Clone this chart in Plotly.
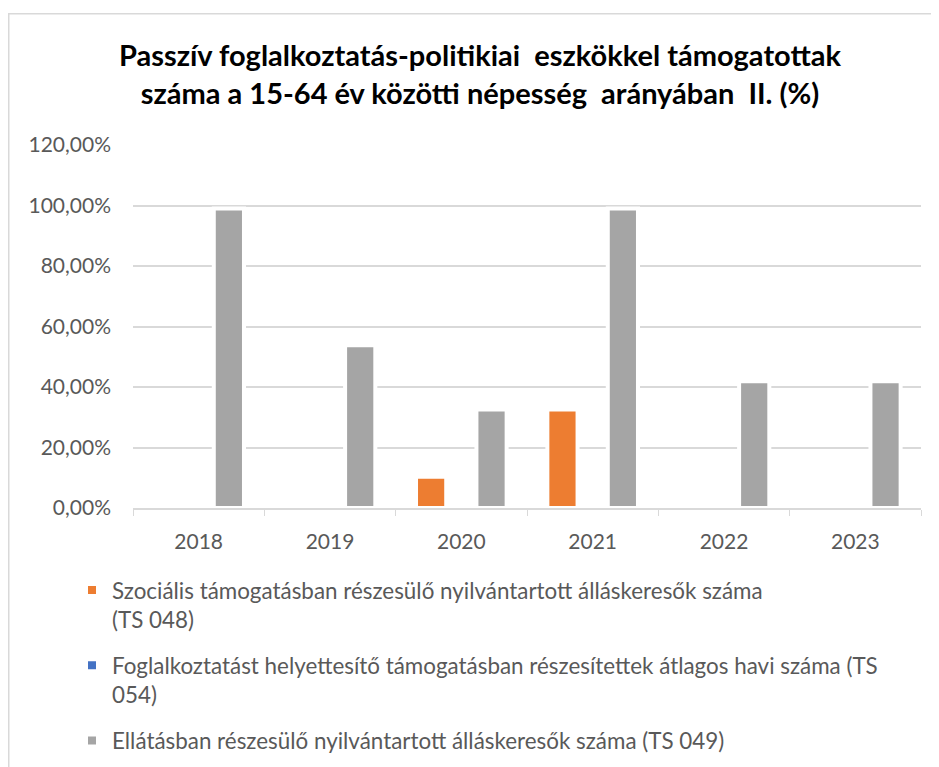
import plotly.graph_objects as go

# adatok
evek = ["2018", "2019", "2020", "2021", "2022", "2023"]
szocialis = [0, 0, 0.103, 0.326, 0, 0]          # TS 048
foglalkoztatast = [0, 0, 0, 0, 0, 0]            # TS 054
ellatasban = [0.99, 0.538, 0.326, 0.99, 0.419, 0.419]  # TS 049

nevek = [
    "Szociális támogatásban részesülő nyilvántartott álláskeresők száma<br>(TS 048)",
    "Foglalkoztatást helyettesítő támogatásban részesítettek átlagos havi száma (TS<br>054)",
    "Ellátásban részesülő nyilvántartott álláskeresők száma (TS 049)",
]
szinek = ["#ED7D31", "#4472C4", "#A5A5A5"]

# a böngésző 8px-es body margója miatt minden 8px-szel eltolva
W, H = 939, 767
L, R, T, B = 125, 26, 137, 267
pw, ph = W - L - R, H - T - B

fig = go.Figure()
for i, (nev, ertekek, szin) in enumerate(zip(nevek, [szocialis, foglalkoztatast, ellatasban], szinek)):
    # fehér keret az oszlopok körül (mint az Excelben)
    fig.add_trace(go.Bar(x=evek, y=ertekek, name=nev, legendgroup=f"g{i}",
                         marker=dict(color=szin, line=dict(color="white", width=4))))

FONT = "Lato, Liberation Sans, sans-serif"
fig.update_layout(
    width=W, height=H,
    margin=dict(l=L, r=R, t=T, b=B),
    paper_bgcolor="white", plot_bgcolor="white",
    separators=",.",
    font=dict(family=FONT, color="#595959", size=21),
    title=dict(
        text="<b>Passzív foglalkoztatás-politikiai  eszkökkel támogatottak<br>száma a 15-64 év közötti népesség  arányában  II. (%)</b>",
        x=(480 - 8 - L) / pw, xanchor="center", xref="paper", y=(H - 58) / H, yanchor="middle",
        font=dict(size=29, color="#000000", family=FONT),
    ),
    barmode="group", bargap=0.31, bargroupgap=0,
    showlegend=True,
    legend=dict(orientation="v", x=(72 - 8 - L) / pw, xanchor="left",
                y=-(569 - 8 - (T + ph)) / ph, yanchor="top", valign="top",
                font=dict(size=22.4, color="#595959"), tracegroupgap=14,
                itemwidth=30, traceorder="grouped"),
)
fig.update_yaxes(range=[0, 1.2], dtick=0.2, tickformat=".2%",
                 showgrid=True, gridcolor="#D9D9D9", gridwidth=1.5,
                 zeroline=False, showline=False, ticks="", ticklabelstandoff=21)
fig.update_xaxes(showline=True, linecolor="#D9D9D9", linewidth=1.5,
                 ticks="outside", tickson="boundaries", ticklen=6, tickcolor="#D9D9D9",
                 ticklabelstandoff=14)

# külső keret (jobb és alsó oldala a képen kívül esik)
fig.add_shape(type="rect", xref="paper", yref="paper",
              x0=(0.75 - L) / pw, x1=(W + 20 - L) / pw,
              y0=-(H + 20 - (T + ph)) / ph, y1=(T + ph - 5.7) / ph,
              line=dict(color="#D9D9D9", width=1.5), fillcolor="rgba(0,0,0,0)", layer="below")

fig.write_html("out.html")
